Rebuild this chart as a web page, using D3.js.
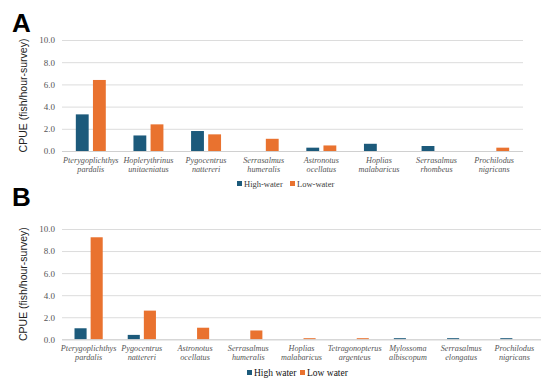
<!DOCTYPE html>
<html>
<head>
<meta charset="utf-8">
<script src="https://cdn.jsdelivr.net/npm/d3@7"></script>
<style>
html,body{margin:0;padding:0;background:#fff;}
svg{display:block;}
</style>
</head>
<body>
<svg id="chart" width="550" height="386"></svg>
<script>
// ---- Data ----
const seriesA = ["High-water", "Low-water"];
const categoriesA = [
  ["Pterygoplichthys", "pardalis"],
  ["Hoplerythrinus", "unitaeniatus"],
  ["Pygocentrus", "nattereri"],
  ["Serrasalmus", "humeralis"],
  ["Astronotus", "ocellatus"],
  ["Hoplias", "malabaricus"],
  ["Serrasalmus", "rhombeus"],
  ["Prochilodus", "nigricans"]
];
const highA = [3.3, 1.4, 1.8, 0, 0.3, 0.65, 0.45, 0];
const lowA  = [6.4, 2.4, 1.5, 1.1, 0.5, 0, 0, 0.3];

const seriesB = ["High water", "Low water"];
const categoriesB = [
  ["Pterygoplichthys", "pardalis"],
  ["Pygocentrus", "nattereri"],
  ["Astronotus", "ocellatus"],
  ["Serrasalmus", "humeralis"],
  ["Hoplias", "malabaricus"],
  ["Tetragonopterus", "argenteus"],
  ["Mylossoma", "albiscopum"],
  ["Serrasalmus", "elongatus"],
  ["Prochilodus", "nigricans"]
];
const highB = [1.0, 0.4, 0, 0, 0, 0, 0.1, 0.1, 0.1];
const lowB  = [9.25, 2.6, 1.05, 0.8, 0.1, 0.1, 0, 0, 0];

const yTicks = [0, 2, 4, 6, 8, 10];
const yTitle = "CPUE (fish/hour-survey)";
const colors = ["#1c5a7b", "#e9722f"];

const svg = d3.select("#chart");
const SERIF = "'Liberation Serif', 'Times New Roman', serif";
const SANS = "'Liberation Sans', Arial, sans-serif";

function panel(opt) {
  const g = svg.append("g");
  const n = opt.cats.length;
  const x0 = d3.scaleBand().domain(d3.range(n)).range([opt.x0, opt.x1])
    .paddingInner(opt.pad).paddingOuter(opt.pad / 2);
  const x1 = d3.scaleBand().domain([0, 1]).range([0, x0.bandwidth()]).paddingInner(0.25);
  const y = d3.scaleLinear().domain([0, 10]).range([opt.yb, opt.yt]);

  // panel letter
  g.append("text").attr("x", 12).attr("y", opt.letterY)
    .attr("font-family", SANS)
    .attr("font-weight", "bold").attr("font-size", 26).attr("fill", "#000")
    .text(opt.letter);

  // grid
  const yAxis = d3.axisLeft(y).tickValues(yTicks)
    .tickSize(-(opt.x1 - opt.x0)).tickPadding(7).tickFormat(d3.format(".1f"));
  const ga = g.append("g").attr("transform", `translate(${opt.x0},0)`).call(yAxis)
    .attr("font-family", SERIF).attr("font-size", 9);
  ga.select(".domain").remove();
  ga.selectAll(".tick line").attr("stroke", "#dcdcdc").attr("stroke-width", 1);
  ga.selectAll(".tick text").style("font-family", SERIF)
    .attr("font-size", 9).attr("fill", "#555");

  // y title
  g.append("text")
    .attr("transform", `translate(27,${(opt.yb + opt.yt) / 2}) rotate(-90)`)
    .attr("text-anchor", "middle")
    .attr("font-family", SANS)
    .attr("font-size", 10.5).attr("fill", "#222")
    .text(yTitle);

  // bars
  const vals = [opt.high, opt.low];
  vals.forEach((arr, s) => {
    g.append("g").selectAll("rect").data(arr).join("rect")
      .attr("x", (d, i) => x0(i) + x1(s))
      .attr("width", x1.bandwidth())
      .attr("y", d => y(d))
      .attr("height", d => y(0) - y(d))
      .attr("fill", colors[s]);
  });

  // baseline
  g.append("line").attr("x1", opt.x0).attr("x2", opt.x1)
    .attr("y1", y(0) + 0.5).attr("y2", y(0) + 0.5)
    .attr("stroke", "#d0d0d0");

  // category labels
  const cl = g.append("g").selectAll("text").data(opt.cats).join("text")
    .attr("text-anchor", "middle")
    .style("font-family", SERIF)
    .attr("font-style", "italic").attr("font-size", 8.2).attr("fill", "#555");
  cl.each(function(d, i) {
    const t = d3.select(this);
    const cx = x0(i) + x0.bandwidth() / 2;
    t.append("tspan").attr("x", cx).attr("y", opt.labY).text(d[0]);
    t.append("tspan").attr("x", cx).attr("y", opt.labY + 9).text(d[1]);
  });

  // legend
  const lg = g.append("g");
  opt.series.forEach((s, k) => {
    lg.append("rect").attr("x", opt.legX[k]).attr("y", opt.legY - 3)
      .attr("width", 5).attr("height", 5).attr("fill", colors[k]);
    lg.append("text").attr("x", opt.legX[k] + 7).attr("y", opt.legY + 2.5)
      .style("font-family", SERIF)
      .attr("font-size", opt.legFont).attr("fill", opt.legColor).text(s);
  });
}

panel({
  letter: "A", letterY: 32,
  cats: categoriesA, high: highA, low: lowA, series: seriesA,
  x0: 62, x1: 523, yt: 40, yb: 151, pad: 0.48,
  labY: 163, legX: [237, 290], legY: 184, legFont: 8.5, legColor: "#404040"
});

panel({
  letter: "B", letterY: 206,
  cats: categoriesB, high: highB, low: lowB, series: seriesB,
  x0: 62, x1: 541, yt: 229, yb: 339.3, pad: 0.47,
  labY: 351, legX: [247, 300], legY: 373, legFont: 9.5, legColor: "#111"
});
</script>
</body>
</html>
